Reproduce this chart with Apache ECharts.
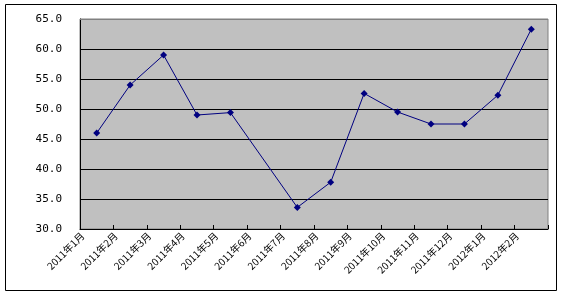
<!DOCTYPE html>
<html><head><meta charset="utf-8">
<script src="https://cdn.jsdelivr.net/npm/echarts@6/dist/echarts.min.js"></script>
<style>html,body{margin:0;padding:0;background:#fff}#c{width:564px;height:296px}</style>
</head><body><div id="c"></div>
<script>
const categories = ['2011年1月','2011年2月','2011年3月','2011年4月','2011年5月','2011年6月','2011年7月','2011年8月','2011年9月','2011年10月','2011年11月','2011年12月','2012年1月','2012年2月'];
const values = [46.0, 54.0, 59.0, 49.0, 49.4, null, 33.6, 37.8, 52.6, 49.5, 47.5, 47.5, 52.3, 63.3];
const yMin = 30, yMax = 65, yStep = 5;

const chart = echarts.init(document.getElementById('c'), null, {renderer:'canvas'});
chart.setOption({
  animation: false,
  backgroundColor: '#fff',
  graphic: [
    {type:'rect', shape:{x:5.5,y:4.5,width:551,height:286}, style:{fill:null, stroke:'#000', lineWidth:1}, z:0},
    {type:'line', shape:{x1:80,y1:19.5,x2:548,y2:19.5}, style:{stroke:'#808080', lineWidth:1}, z:100}
  ],
  grid: {left:80, right:16, top:19, bottom:67, show:true, backgroundColor:'#c0c0c0', borderColor:'#808080', borderWidth:1},
  xAxis: {
    type:'category', data: categories, boundaryGap:true,
    axisLine:{lineStyle:{color:'#000', width:1}},
    axisTick:{show:true, inside:true, length:4, lineStyle:{color:'#000'}},
    axisLabel:{rotate:45, interval:0, fontSize:10, color:'#000', fontFamily:'"Noto Sans CJK SC", sans-serif', margin:5, verticalAlign:'bottom', padding:[0,10,5,0]},
    splitLine:{show:false}
  },
  yAxis: {
    type:'value', min:yMin, max:yMax, interval:yStep,
    axisLine:{show:true, lineStyle:{color:'#000', width:1}},
    axisTick:{show:false},
    axisLabel:{fontSize:11, color:'#000', fontFamily:'"DejaVu Sans Mono", monospace', margin:18, formatter: v => v.toFixed(1)},
    splitLine:{show:true, lineStyle:{color:'#000', width:1}}
  },
  series: [{
    type:'line', data: values, connectNulls:true,
    symbol:'diamond', symbolSize:7,
    lineStyle:{color:'#000080', width:1},
    itemStyle:{color:'#000080'}
  }]
});
</script></body></html>
